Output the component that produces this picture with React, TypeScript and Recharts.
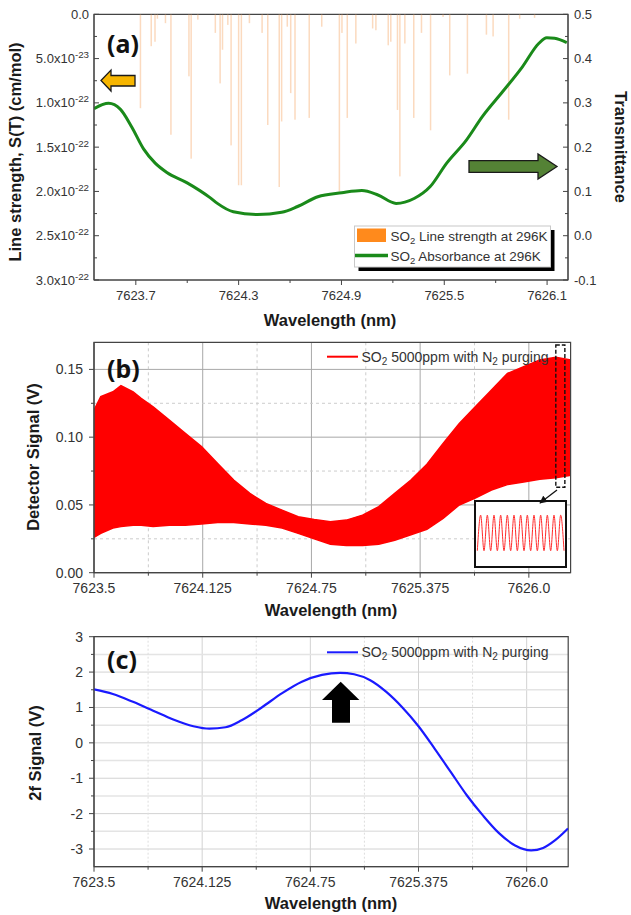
import React from 'react';
import { ComposedChart, LineChart, Bar, Line, Area, XAxis, YAxis, CartesianGrid, ReferenceArea } from 'recharts';

// (a) SO2 line strength (x1e-22 cm/mol) and transmittance
const lineWl = [7623.727, 7623.790, 7623.812, 7623.826, 7623.873, 7623.905, 7624.010, 7624.023, 7624.062, 7624.164, 7624.192, 7624.206, 7624.237, 7624.256, 7624.300, 7624.316, 7624.363, 7624.437, 7624.470, 7624.537, 7624.551, 7624.584, 7624.604, 7624.629, 7624.712, 7624.785, 7624.888, 7624.903, 7624.934, 7624.984, 7625.082, 7625.101, 7625.173, 7625.188, 7625.227, 7625.241, 7625.270, 7625.322, 7625.367, 7625.420, 7625.493, 7625.532, 7625.635, 7625.746, 7625.785, 7625.876, 7625.940, 7626.027];
const lineS = [1.06, 0.36, 0.31, 0.05, 0.10, 1.36, 0.70, 1.63, 0.06, 0.21, 0.78, 0.40, 0.12, 1.48, 1.93, 1.93, 0.10, 0.21, 1.25, 1.95, 1.21, 0.14, 0.89, 1.19, 1.17, 0.14, 2.00, 0.21, 1.17, 0.33, 0.16, 0.18, 0.35, 0.31, 1.08, 1.83, 0.33, 1.17, 0.21, 1.31, 0.03, 0.69, 0.67, 0.23, 0.25, 1.19, 0.05, 0.04];

const transWl = [7623.456, 7623.541, 7623.609, 7623.677, 7623.745, 7623.813, 7623.881, 7623.997, 7624.133, 7624.176, 7624.269, 7624.410, 7624.551, 7624.644, 7624.762, 7624.902, 7625.019, 7625.113, 7625.219, 7625.324, 7625.418, 7625.512, 7625.629, 7625.722, 7625.840, 7625.957, 7626.051, 7626.098, 7626.144, 7626.215];
const transmittance = [0.287, 0.299, 0.286, 0.245, 0.196, 0.164, 0.143, 0.120, 0.086, 0.073, 0.054, 0.048, 0.053, 0.066, 0.088, 0.097, 0.102, 0.092, 0.073, 0.084, 0.111, 0.163, 0.216, 0.269, 0.325, 0.382, 0.434, 0.447, 0.446, 0.436];

// (b) detector signal envelope (V)
const detWl = [7623.5, 7623.539, 7623.609, 7623.655, 7623.725, 7623.771, 7623.840, 7623.933, 7624.025, 7624.118, 7624.211, 7624.303, 7624.396, 7624.488, 7624.581, 7624.674, 7624.766, 7624.859, 7624.951, 7625.044, 7625.137, 7625.229, 7625.322, 7625.414, 7625.507, 7625.600, 7625.692, 7625.785, 7625.877, 7625.970, 7626.063, 7626.155, 7626.243];
const detUpper = [0.120, 0.130, 0.1335, 0.138, 0.1335, 0.1286, 0.1224, 0.1126, 0.1028, 0.093, 0.0806, 0.0684, 0.0585, 0.0511, 0.0462, 0.0413, 0.0393, 0.0376, 0.0388, 0.0425, 0.0487, 0.0585, 0.0684, 0.080, 0.0954, 0.110, 0.1224, 0.1347, 0.147, 0.152, 0.157, 0.159, 0.157];
const detLower = [0.026, 0.029, 0.033, 0.034, 0.035, 0.035, 0.034, 0.035, 0.035, 0.036, 0.037, 0.037, 0.036, 0.035, 0.033, 0.029, 0.025, 0.021, 0.020, 0.020, 0.021, 0.024, 0.028, 0.032, 0.040, 0.050, 0.055, 0.061, 0.065, 0.067, 0.069, 0.070, 0.072];
const insetSignal = [0.08, 0.92, 0.08, 0.92, 0.08, 0.92, 0.08, 0.92, 0.08, 0.92, 0.08, 0.92, 0.08, 0.92, 0.08, 0.92, 0.08, 0.92, 0.08, 0.92, 0.08, 0.92, 0.08, 0.92, 0.08, 0.92, 0.08];

// (c) 2f signal (V)
const f2Wl = [7623.5, 7623.609, 7623.725, 7623.842, 7623.958, 7624.074, 7624.167, 7624.260, 7624.353, 7624.469, 7624.585, 7624.701, 7624.817, 7624.922, 7625.003, 7625.096, 7625.189, 7625.282, 7625.375, 7625.468, 7625.561, 7625.654, 7625.747, 7625.840, 7625.933, 7626.026, 7626.095, 7626.165, 7626.239];
const f2Signal = [1.51, 1.38, 1.16, 0.91, 0.66, 0.47, 0.40, 0.44, 0.64, 1.00, 1.40, 1.73, 1.92, 1.98, 1.94, 1.77, 1.44, 1.00, 0.47, -0.16, -0.82, -1.48, -2.05, -2.55, -2.90, -3.04, -2.97, -2.75, -2.42];

// ticks
const strengthMajors = [0, 0.5, 1, 1.5, 2, 2.5, 3];
const strengthLabels = ['0.0', '5.0x10^-23', '1.0x10^-22', '1.5x10^-22', '2.0x10^-22', '2.5x10^-22', '3.0x10^-22'];
const strengthMinors = [0.25, 0.75, 1.25, 1.75, 2.25, 2.75];
const transMajors = [-0.1, 0, 0.1, 0.2, 0.3, 0.4, 0.5];
const transLabels = ['-0.1', '0.0', '0.1', '0.2', '0.3', '0.4', '0.5'];
const transMinors = [-0.05, 0.05, 0.15, 0.25, 0.35, 0.45];
const wlMajorsA = [7623.7, 7624.3, 7624.9, 7625.5, 7626.1];
const wlLabelsA = ['7623.7', '7624.3', '7624.9', '7625.5', '7626.1'];
const wlMinorsA = [7624.0, 7624.6, 7625.2, 7625.8];
const wlMajorsB = [7623.5, 7624.125, 7624.75, 7625.375, 7626.0];
const wlLabelsB = ['7623.5', '7624.125', '7624.75', '7625.375', '7626.0'];
const wlMinorsB = [7623.8125, 7624.4375, 7625.0625, 7625.6875];
const detMajors = [0, 0.05, 0.1, 0.15];
const detLabels = ['0.00', '0.05', '0.10', '0.15'];
const detMinors = [0.025, 0.075, 0.125];
const f2Majors = [-3, -2, -1, 0, 1, 2, 3];
const f2Labels = ['-3', '-2', '-1', '0', '1', '2', '3'];
const f2Minors = [-2.5, -1.5, -0.5, 0.5, 1.5, 2.5];

const stickRows = lineWl.map((wl, i) => ({ wl, s: lineS[i] }));
const transRows = transWl.map((wl, i) => ({ wl, t: transmittance[i] }));
const detRows = detWl.map((wl, i) => ({ wl, band: [detLower[i], detUpper[i]] }));
const f2Rows = f2Wl.map((wl, i) => ({ wl, v: f2Signal[i] }));
const insetRows = insetSignal.map((v, i) => ({ i, v }));

const FONT = '"Liberation Sans", Arial, Helvetica, sans-serif';
const AXIS = '#444';
const DOM_A: [number, number] = [7623.456, 7626.222];
const DOM_B: [number, number] = [7623.5, 7626.24];

const all = (a: number[], b: number[]) => [...a, ...b].sort((p, q) => p - q);

function tickLabel(text: string, x: number, y: number, anchor: string, fs: number) {
  const [base, sup] = text.split('^');
  return (
    <text x={x} y={y} textAnchor={anchor} fontSize={fs} fontFamily={FONT} fill="#333">
      <tspan>{base}</tspan>
      {sup && <tspan dy={-5} fontSize={fs * 0.75}>{sup}</tspan>}
    </text>
  );
}

type TickOpts = {
  majors: number[]; labels: string[]; side: 'left' | 'right' | 'bottom';
  inward: boolean; fs: number; majorLen: number; minorLen: number; gap: number;
};

const makeTick = (o: TickOpts) => (props: any) => {
  const { x, y, payload } = props;
  const v = Number(payload.value);
  const idx = o.majors.findIndex((m) => Math.abs(m - v) < 1e-9);
  const len = idx >= 0 ? o.majorLen : o.minorLen;
  const d = o.inward ? 1 : -1;
  let ln;
  let lb = null;
  if (o.side === 'left') {
    ln = <line x1={x} y1={y} x2={x + d * len} y2={y} stroke={AXIS} />;
    if (idx >= 0) lb = tickLabel(o.labels[idx], x - o.gap - (o.inward ? 0 : len), y + o.fs * 0.35, 'end', o.fs);
  } else if (o.side === 'right') {
    ln = <line x1={x} y1={y} x2={x - d * len} y2={y} stroke={AXIS} />;
    if (idx >= 0) lb = tickLabel(o.labels[idx], x + o.gap + (o.inward ? 0 : len), y + o.fs * 0.35, 'start', o.fs);
  } else {
    ln = <line x1={x} y1={y} x2={x} y2={y - d * len} stroke={AXIS} />;
    if (idx >= 0) lb = tickLabel(o.labels[idx], x, y + o.gap, 'middle', o.fs);
  }
  return <g>{ln}{lb}</g>;
};

// thin stick hanging from the top axis, centred on the bar's x position
const Stick = (props: any) => {
  const { x, y, width, height } = props;
  if (x == null || y == null) return null;
  const top = Math.min(y, y + height);
  return <rect x={x + width / 2 - 0.75} y={top} width={1.5} height={Math.abs(height)} fill="#f7ae72" fillOpacity={0.45} />;
};

const axisCommon = { tickSize: 0, tickMargin: 0, tickLine: false, interval: 0 as const, axisLine: { stroke: AXIS } };

function PanelA() {
  return (
    <ComposedChart width={631} height={310} data={stickRows} margin={{ top: 14.3, right: 0, bottom: 0, left: 0 }}>
      <XAxis xAxisId="x" dataKey="wl" type="number" domain={DOM_A} allowDataOverflow height={30}
        ticks={all(wlMajorsA, wlMinorsA)} {...axisCommon}
        tick={makeTick({ majors: wlMajorsA, labels: wlLabelsA, side: 'bottom', inward: false, fs: 13, majorLen: 5, minorLen: 3, gap: 19.5 })} />
      <YAxis yAxisId="left" type="number" domain={[0, 3]} reversed allowDataOverflow width={94}
        ticks={all(strengthMajors, strengthMinors)} {...axisCommon}
        tick={makeTick({ majors: strengthMajors, labels: strengthLabels, side: 'left', inward: true, fs: 13, majorLen: 5, minorLen: 3, gap: 5 })} />
      <YAxis yAxisId="right" orientation="right" type="number" domain={[-0.1, 0.5]} allowDataOverflow width={63}
        ticks={all(transMajors, transMinors)} {...axisCommon}
        tick={makeTick({ majors: transMajors, labels: transLabels, side: 'right', inward: true, fs: 13, majorLen: 5, minorLen: 3, gap: 6 })} />
      <Bar xAxisId="x" yAxisId="left" dataKey="s" barSize={1.6} fill="#f7ae72" shape={Stick} isAnimationActive={false} />
      <Line xAxisId="x" yAxisId="right" data={transRows} dataKey="t" type="monotone" dot={false}
        stroke="#1a8a1a" strokeWidth={3} isAnimationActive={false} />
      <ReferenceArea xAxisId="x" yAxisId="right" x1={DOM_A[0]} x2={DOM_A[1]} y1={-0.1} y2={0.5}
        fill="none" stroke={AXIS} strokeWidth={1.2} />
    </ComposedChart>
  );
}

function PanelB() {
  return (
    <ComposedChart width={631} height={275} data={detRows} margin={{ top: 12.3, right: 60.4, bottom: 0, left: 0 }}>
      <CartesianGrid horizontalValues={detMajors} verticalValues={wlMajorsB} stroke="#a8a8a8" />
      <CartesianGrid horizontalValues={detMinors} verticalValues={wlMinorsB} stroke="#cccccc" strokeDasharray="3 3" />
      <XAxis dataKey="wl" type="number" domain={DOM_B} allowDataOverflow height={32.3}
        ticks={all(wlMajorsB, wlMinorsB)} {...axisCommon}
        tick={makeTick({ majors: wlMajorsB, labels: wlLabelsB, side: 'bottom', inward: false, fs: 14, majorLen: 5, minorLen: 3, gap: 20.5 })} />
      <YAxis type="number" domain={[0, 0.17]} allowDataOverflow width={94}
        ticks={all(detMajors, detMinors)} {...axisCommon}
        tick={makeTick({ majors: detMajors, labels: detLabels, side: 'left', inward: false, fs: 14, majorLen: 5, minorLen: 3, gap: 6 })} />
      <Area dataKey="band" type="linear" stroke="#ff0000" strokeWidth={1.5} fill="#ff0000" fillOpacity={1} isAnimationActive={false} />
      <ReferenceArea x1={7626.155} x2={7626.207} y1={0.063} y2={0.168} fill="none" stroke="#111" strokeWidth={1.4} strokeDasharray="4 2" />
      <ReferenceArea x1={DOM_B[0]} x2={DOM_B[1]} y1={0} y2={0.17} fill="none" stroke={AXIS} strokeWidth={1.2} />
    </ComposedChart>
  );
}

function PanelC() {
  return (
    <LineChart width={631} height={275} data={f2Rows} margin={{ top: 11.7, right: 62.8, bottom: 0, left: 0 }}>
      <CartesianGrid horizontalValues={f2Majors} verticalValues={wlMajorsB} stroke="#d2d2d2" />
      <CartesianGrid horizontalValues={f2Minors} vertical={false} stroke="#e4e4e4" strokeWidth={1.5} />
      <CartesianGrid horizontal={false} verticalValues={wlMinorsB} stroke="#dddddd" strokeDasharray="2 2" />
      <XAxis dataKey="wl" type="number" domain={DOM_B} allowDataOverflow height={33.3}
        ticks={all(wlMajorsB, wlMinorsB)} {...axisCommon}
        tick={makeTick({ majors: wlMajorsB, labels: wlLabelsB, side: 'bottom', inward: false, fs: 14, majorLen: 5, minorLen: 3, gap: 20 })} />
      <YAxis type="number" domain={[-3.5, 3]} allowDataOverflow width={94}
        ticks={all(f2Majors, f2Minors)} {...axisCommon}
        tick={makeTick({ majors: f2Majors, labels: f2Labels, side: 'left', inward: false, fs: 14, majorLen: 5, minorLen: 3, gap: 6 })} />
      <Line dataKey="v" type="monotone" dot={false} stroke="#1a1aff" strokeWidth={2.2} isAnimationActive={false} />
      <ReferenceArea x1={DOM_B[0]} x2={DOM_B[1]} y1={-3.5} y2={3} fill="none" stroke={AXIS} strokeWidth={1.2} />
    </LineChart>
  );
}

function Inset() {
  return (
    <div style={{ position: 'absolute', left: 474, top: 500, width: 89, height: 64, border: '2px solid #111', background: '#fff' }}>
      <LineChart width={89} height={64} data={insetRows} margin={{ top: 0, right: 0, bottom: 0, left: 0 }}>
        <XAxis dataKey="i" type="number" domain={[-0.4, 26.3]} hide />
        <YAxis type="number" domain={[-0.28, 1.23]} hide />
        <Line dataKey="v" type="monotone" dot={false} stroke="#ff2a2a" strokeWidth={1} isAnimationActive={false} />
      </LineChart>
    </div>
  );
}

const title = { fontFamily: FONT, fontWeight: 700, fontSize: 16.5, fill: '#1a1a1a' } as const;
const panelLbl = { fontFamily: '"Noto Sans", "Open Sans", sans-serif', fontWeight: 700, fontSize: 25, fill: '#111' } as const;
const legTxt = { fontFamily: FONT, fill: '#333' } as const;

function Overlay() {
  return (
    <svg width={631} height={915} style={{ position: 'absolute', left: 0, top: 0, pointerEvents: 'none' }}>
      <defs>
        <marker id="head" viewBox="0 0 10 10" refX="9" refY="5" markerWidth="6" markerHeight="6" orient="auto">
          <path d="M0,0 L10,5 L0,10 z" fill="#111" />
        </marker>
      </defs>
      {/* axis titles */}
      <text transform="translate(15,152) rotate(-90)" textAnchor="middle" dominantBaseline="central" {...title}>Line strength, S(T) (cm/mol)</text>
      <text transform="translate(621,147) rotate(90)" textAnchor="middle" dominantBaseline="central" {...title}>Transmittance</text>
      <text x={330} y={320} textAnchor="middle" dominantBaseline="central" {...title}>Wavelength (nm)</text>
      <text transform="translate(33,457) rotate(-90)" textAnchor="middle" dominantBaseline="central" {...title}>Detector Signal (V)</text>
      <text x={331} y={610} textAnchor="middle" dominantBaseline="central" {...title}>Wavelength (nm)</text>
      <text transform="translate(35,753) rotate(-90)" textAnchor="middle" dominantBaseline="central" {...title}>2f Signal (V)</text>
      <text x={331} y={903} textAnchor="middle" dominantBaseline="central" {...title}>Wavelength (nm)</text>

      {/* panel labels */}
      <text x={107} y={53} {...panelLbl}>(a)</text>
      <text x={107} y={378} {...panelLbl}>(b)</text>
      <text x={107} y={669} {...panelLbl}>(c)</text>

      {/* arrows */}
      <polygon points="101,80.5 111,70 111,75.5 135,75.5 135,86 111,86 111,91" fill="#f6b500" stroke="#1a1a1a" strokeWidth={1.3} />
      <polygon points="469,160.7 538,160.7 538,154 557,166.5 538,179 538,172.3 469,172.3" fill="#548235" stroke="#1a1a1a" strokeWidth={1.3} />
      <line x1={557} y1={490} x2={540} y2={503} stroke="#111" strokeWidth={1.3} markerEnd="url(#head)" />
      <polygon points="340.7,681.7 359.4,700 350,700 350,722.7 332,722.7 332,700 322,700" fill="#000" />

      {/* legend (a) */}
      <rect x={358.5} y={230} width={196} height={41} fill="#000" />
      <rect x={354.5} y={226} width={196} height={41} fill="#fff" stroke="#c8c8c8" />
      <rect x={357} y={228.5} width={29} height={13.5} fill="#ff8a1c" />
      <text x={390.5} y={241.2} fontSize={13.5} {...legTxt}>SO<tspan dy={3} fontSize={9.5}>2</tspan><tspan dy={-3}> Line strength at 296K</tspan></text>
      <line x1={355} y1={255.5} x2={388} y2={255.5} stroke="#1a8a1a" strokeWidth={3.5} />
      <text x={390.5} y={260.5} fontSize={13.5} {...legTxt}>SO<tspan dy={3} fontSize={9.5}>2</tspan><tspan dy={-3}> Absorbance at 296K</tspan></text>

      {/* legend (b) */}
      <line x1={327} y1={356.7} x2={358} y2={356.7} stroke="#ff0000" strokeWidth={2} />
      <text x={361.5} y={361.5} fontSize={14} {...legTxt}>SO<tspan dy={3} fontSize={10}>2</tspan><tspan dy={-3}> 5000ppm with N</tspan><tspan dy={3} fontSize={10}>2</tspan><tspan dy={-3}> purging</tspan></text>

      {/* legend (c) */}
      <line x1={327} y1={652.3} x2={358} y2={652.3} stroke="#1a1aff" strokeWidth={2} />
      <text x={361.5} y={657} fontSize={14} {...legTxt}>SO<tspan dy={3} fontSize={10}>2</tspan><tspan dy={-3}> 5000ppm with N</tspan><tspan dy={3} fontSize={10}>2</tspan><tspan dy={-3}> purging</tspan></text>
    </svg>
  );
}

export default function App() {
  return (
    <div style={{ position: 'absolute', left: 0, top: 0, width: 631, height: 915, background: '#fff', overflow: 'hidden' }}>
      <div style={{ position: 'absolute', left: 0, top: 0 }}><PanelA /></div>
      <div style={{ position: 'absolute', left: 0, top: 330 }}><PanelB /></div>
      <div style={{ position: 'absolute', left: 0, top: 625 }}><PanelC /></div>
      <Inset />
      <Overlay />
    </div>
  );
}
